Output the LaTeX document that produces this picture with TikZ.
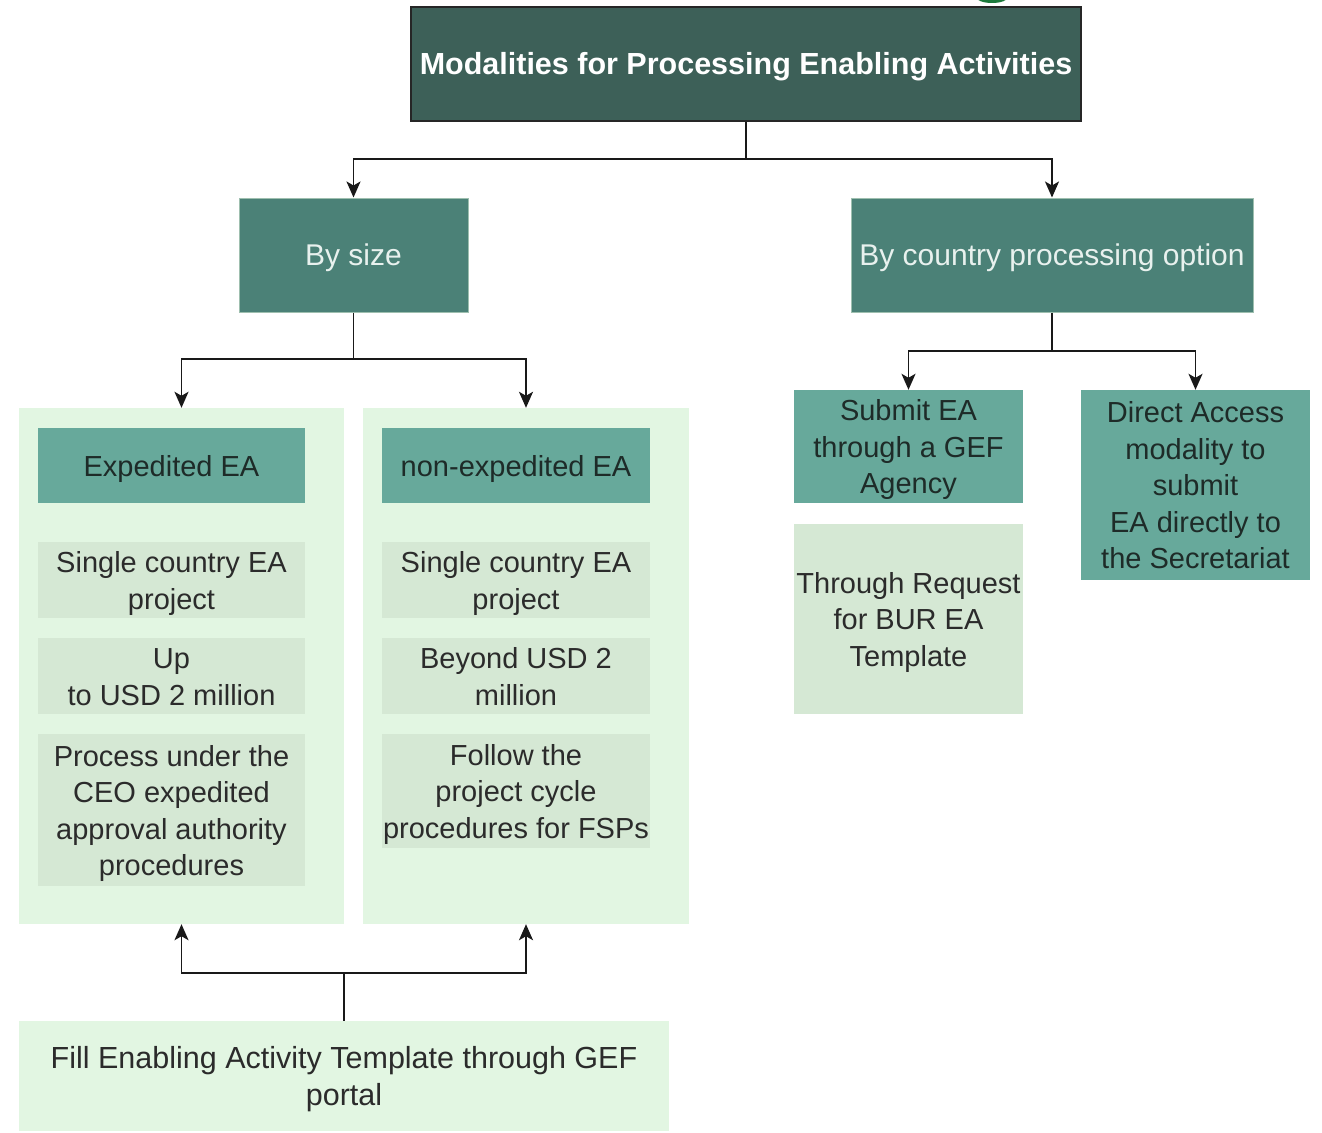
\documentclass[tikz,border=0pt]{standalone}
\usepackage{fontspec}
\setmainfont{Liberation Sans}
\usetikzlibrary{arrows.meta,positioning}
\definecolor{titlefill}{HTML}{3D6058}
\definecolor{darkfill}{HTML}{4B8177}
\definecolor{midfill}{HTML}{67A99B}
\definecolor{lightfill}{HTML}{D5E8D4}
\definecolor{paleback}{HTML}{E2F6E2}
\definecolor{darktext}{HTML}{1E2B28}
\definecolor{greytext}{HTML}{2B2B2B}
\definecolor{lighttext}{HTML}{E8F1EE}
\definecolor{fragment}{HTML}{1C7A3C}
% lowers the text a little inside its box, keeping the box centred
\newcommand{\lowtext}[1]{\raisebox{-3.5pt}[\height][\depth]{\begin{tabular}{@{}c@{}}#1\end{tabular}}}
\tikzset{
  box/.style={rectangle, inner sep=0pt, align=center, font=\fontsize{29}{36.5}\selectfont},
  titlebox/.style={box, fill=titlefill, draw=black!85, line width=1.5pt, text=white,
     font=\fontsize{30.5}{36}\selectfont\bfseries},
  darkbox/.style={box, fill=darkfill, draw=lightfill!60!darkfill, line width=1pt, text=lighttext,
     font=\fontsize{30}{36}\selectfont},
  midbox/.style={box, fill=midfill, text=darktext},
  lightbox/.style={box, fill=lightfill, text=greytext},
  panel/.style={rectangle, inner sep=0pt, fill=paleback},
  arr/.style={line width=1.9pt, draw=black!90, -{Stealth[length=16pt,width=14pt,inset=4pt]}},
  ln/.style={line width=1.9pt, draw=black!90}
}
\begin{document}
\begin{tikzpicture}[x=1pt,y=-1pt]
\useasboundingbox (0,0) rectangle (1322,1132);
\clip (0,0) rectangle (1322,1132);
\fill[white] (0,0) rectangle (1322,1132);
% fragment of a glyph at top edge
\fill[fragment] (992,-3) ellipse (16 and 6);

% title
\node[titlebox, minimum width=670pt, minimum height=114pt] (title) at (746,64) {\lowtext{Modalities for Processing Enabling Activities}};

% level 2
\node[darkbox, minimum width=229pt, minimum height=114pt] (bysize) at (353.5,255) {\lowtext{By size}};
\node[darkbox, minimum width=402pt, minimum height=114pt] (country) at (1052,255) {\lowtext{By country processing option}};

% panels
\node[panel, minimum width=325pt, minimum height=516pt] (leftp) at (181.5,666) {};
\node[panel, minimum width=326pt, minimum height=516pt] (rightp) at (526,666) {};

% left panel content
\node[midbox, minimum width=267pt, minimum height=75pt] (exp) at (171.5,465.5) {\lowtext{Expedited EA}};
\node[lightbox, minimum width=267pt, minimum height=76pt] (l1) at (171.5,580) {\lowtext{Single country EA\\project}};
\node[lightbox, minimum width=267pt, minimum height=76pt] (l2) at (171.5,676) {\lowtext{Up\\to USD 2 million}};
\node[lightbox, minimum width=267pt, minimum height=152pt] (l3) at (171.5,810) {\lowtext{Process under the\\CEO expedited\\approval authority\\procedures}};

% right panel content
\node[midbox, minimum width=268pt, minimum height=75pt] (nonexp) at (516,465.5) {\lowtext{non-expedited EA}};
\node[lightbox, minimum width=268pt, minimum height=76pt] (r1) at (516,580) {\lowtext{Single country EA\\project}};
\node[lightbox, minimum width=268pt, minimum height=76pt] (r2) at (516,676) {\lowtext{Beyond USD 2\\million}};
\node[lightbox, minimum width=268pt, minimum height=114pt] (r3) at (516,791) {\lowtext{Follow the\\project cycle\\procedures for FSPs}};

% bottom
\node[panel, minimum width=650pt, minimum height=110pt, align=center, text=greytext,
      font=\fontsize{30.5}{37}\selectfont] (fill) at (344,1076) {\lowtext{Fill Enabling Activity Template through GEF\\portal}};

% country options
\node[midbox, minimum width=229pt, minimum height=113pt] (submit) at (908.5,446.5) {\lowtext{Submit EA\\through a GEF\\Agency}};
\node[midbox, minimum width=229pt, minimum height=190pt] (direct) at (1195.5,485) {\lowtext{Direct Access\\modality to\\submit\\EA directly to\\the Secretariat}};
\node[lightbox, minimum width=229pt, minimum height=190pt] (bur) at (908.5,619) {\lowtext{Through Request\\for BUR EA\\Template}};

% connectors
\coordinate (j1) at (746,159);
\draw[ln] (title.south) -- (j1);
\draw[arr] (j1) -| (bysize.north);
\draw[arr] (j1) -| (country.north);

\coordinate (j2) at (353.5,359);
\draw[ln] (bysize.south) -- (j2);
\draw[arr] (j2) -| (leftp.north);
\draw[arr] (j2) -| (rightp.north);

\coordinate (j3) at (1052,351);
\draw[ln] (country.south) -- (j3);
\draw[arr] (j3) -| (submit.north);
\draw[arr] (j3) -| (direct.north);

\coordinate (j4) at (344,973);
\draw[ln] (fill.north) -- (j4);
\draw[arr] (j4) -| (leftp.south);
\draw[arr] (j4) -| (rightp.south);
\end{tikzpicture}
\end{document}
